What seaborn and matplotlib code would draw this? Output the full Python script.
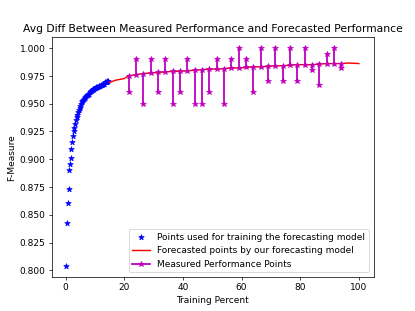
import numpy as np
import matplotlib
matplotlib.use("Agg")
import matplotlib.pyplot as plt
import seaborn as sns

# points used for training (blue stars)
train_x = [0.3, 0.5, 0.8, 1.0, 1.25, 1.5, 1.75, 2.0, 2.25, 2.5, 2.75, 3.0, 3.25,
           3.5, 3.75, 4.0, 4.25, 4.5, 4.75, 5.0, 5.25, 5.5, 5.75, 6.0, 6.25, 6.5,
           6.75, 7.0, 7.25, 7.5, 7.75, 8.0, 8.25, 8.5, 8.75, 9.0, 9.25, 9.5, 9.75,
           10.0, 10.25, 10.5, 10.75, 11.0, 11.25, 11.5, 11.75, 12.0, 12.25, 12.5,
           12.75, 13.0, 13.25, 13.5, 13.75, 14.0, 14.25, 14.5]
train_y = [0.804, 0.843, 0.861, 0.873, 0.890, 0.896, 0.901, 0.909, 0.915, 0.921,
           0.925, 0.928, 0.932, 0.935, 0.938, 0.940, 0.942, 0.944, 0.946, 0.948,
           0.950, 0.951, 0.952, 0.953, 0.954, 0.955, 0.956, 0.957, 0.958, 0.958,
           0.959, 0.959, 0.960, 0.961, 0.961, 0.962, 0.962, 0.963, 0.963, 0.964,
           0.964, 0.965, 0.965, 0.965, 0.966, 0.966, 0.966, 0.967, 0.967, 0.967,
           0.968, 0.968, 0.968, 0.969, 0.969, 0.969, 0.970, 0.970]

# forecasted curve (red)
fc_x = [15, 16, 17, 18, 19, 20, 21.5, 24, 26.5, 29, 31.5, 34, 36.5, 39, 41.5, 44,
        46.5, 49, 51.5, 54, 56.5, 59, 61.5, 64, 66.5, 69, 71.5, 74, 76.5, 79,
        81.5, 84, 86.5, 89, 91.5, 94, 96.5, 100]
fc_y = [0.969, 0.970, 0.971, 0.9715, 0.972, 0.9725, 0.975, 0.976, 0.977, 0.9775,
        0.978, 0.9785, 0.979, 0.979, 0.9795, 0.980, 0.9805, 0.981, 0.981, 0.9815,
        0.982, 0.982, 0.9825, 0.983, 0.983, 0.9835, 0.984, 0.984, 0.9845, 0.985,
        0.985, 0.985, 0.9855, 0.986, 0.986, 0.986, 0.9865, 0.986]

# measured performance points
meas_x = [21.5, 24, 26.5, 29, 31.5, 34, 36.5, 39, 41.5, 44, 46.5, 49, 51.5, 54,
          56.5, 59, 61.5, 64, 66.5, 69, 71.5, 74, 76.5, 79, 81.5, 84, 86.5, 89,
          91.5, 94]
meas_y = [0.960, 0.990, 0.950, 0.990, 0.960, 0.990, 0.950, 0.960, 0.990, 0.950,
          0.950, 0.960, 0.990, 0.950, 0.990, 1.000, 0.990, 0.960, 1.000, 0.970,
          1.000, 0.970, 1.000, 0.970, 1.000, 0.980, 0.967, 0.995, 1.000, 0.982]


def main():
    fig, ax = plt.subplots(figsize=(6.4, 4.8), dpi=415 / 6.4)

    sns.scatterplot(x=train_x, y=train_y, marker="*", color="b", s=40,
                    edgecolor="b", linewidth=0.8, ax=ax,
                    label="Points used for training the forecasting model")
    sns.lineplot(x=fc_x, y=fc_y, color="r", linewidth=1.6, ax=ax,
                 estimator=None, sort=False,
                 label="Forecasted points by our forecasting model")

    for i, (mx, my) in enumerate(zip(meas_x, meas_y)):
        pred = np.interp(mx, fc_x, fc_y)
        lab = "Measured Performance Points" if i == 0 else None
        sns.lineplot(x=[mx, mx], y=[pred, my], color="m", marker="*",
                     markersize=6, markeredgecolor="m", linewidth=2,
                     estimator=None, sort=False, ax=ax, label=lab)

    ax.set_yticks(np.arange(0.8, 1.001, 0.025))
    ax.set_xticks([0, 20, 40, 60, 80, 100])
    ax.set_title("Avg Diff Between Measured Performance and Forecasted Performance")
    ax.set_xlabel("Training Percent")
    ax.set_ylabel("F-Measure")
    ax.legend(loc="lower right")

    fig.savefig("out.png")


if __name__ == "__main__":
    main()
